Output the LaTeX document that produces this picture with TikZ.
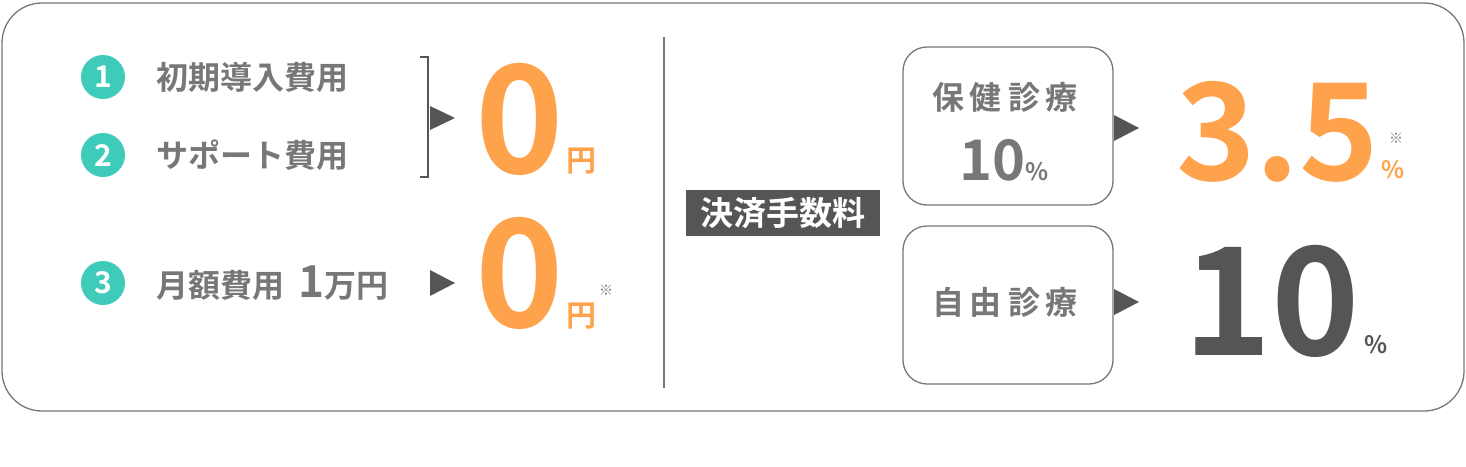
\documentclass[tikz,border=0pt]{standalone}
\usepackage{fontspec}
\setmainfont{Noto Sans CJK JP}[BoldFont={* Bold}]
\newfontfamily\cjk{Noto Sans CJK JP Bold}
\definecolor{org}{HTML}{FFA24C}
\definecolor{tl}{HTML}{3ECBBA}
\definecolor{gt}{HTML}{777777}
\definecolor{dk}{HTML}{555555}
\tikzset{x=1pt,y=-1pt,
 num/.style={circle,fill=tl,text=white,minimum size=44pt,inner sep=0pt,font=\cjk\fontsize{30}{30}\selectfont},
 lbl/.style={anchor=west,text=gt,inner sep=0pt,font=\cjk\fontsize{32}{32}\selectfont},
 tri/.style={fill=dk},
 rbox/.style={draw=gt,line width=1.3pt,rounded corners=24pt,minimum width=210pt,minimum height=158pt,inner sep=0pt},
 big/.style={inner sep=0pt,font=\cjk\fontsize{150}{150}\selectfont},
 sm/.style={inner sep=0pt,font=\cjk\fontsize{30}{30}\selectfont},
 pct/.style={inner sep=0pt,font=\cjk\fontsize{24}{24}\selectfont},
 kome/.style={inner sep=0pt,text=gt,font=\cjk\fontsize{14}{14}\selectfont}}
\begin{document}
\begin{tikzpicture}
\useasboundingbox (0,0) rectangle (1466,466);
\draw[gt,line width=1.3pt,rounded corners=40pt] (2,3) rectangle (1464,411);
\draw[gt,line width=1.3pt] (664,37) -- (664,388);
\node[num] (n1) at (103,77) {1};
\node[num] (n2) at (103,155) {2};
\node[num] (n3) at (103,283) {3};
\node[lbl] (t1) at (156,77) {初期導入費用};
\node[lbl] (t2) at (156,155) {サポート費用};
\node[lbl] (t3) at (156,283) {月額費用\hspace{14pt}{\fontsize{44}{44}\selectfont 1}万円};
\draw[dk,line width=1.3pt] (420,57) -- (428,57) -- (428,177) -- (420,177);
\fill[tri] (430,106) -- (455,118) -- (430,130) -- cycle;
\fill[tri] (430,270) -- (455,283) -- (430,296) -- cycle;
\node[big,text=org,anchor=south] (z1) at (520,176) {0};
\node[sm,text=org,anchor=south west] (y1) at (566,174) {円};
\node[big,text=org,anchor=south] (z2) at (520,330) {0};
\node[sm,text=org,anchor=south west] (y2) at (566,329) {円};
\node[kome] (k1) at (606,290) {※};
\node[fill=dk,text=white,minimum width=194pt,minimum height=46pt,inner sep=0pt,font=\cjk\fontsize{33}{33}\selectfont] (fee) at (783,213) {決済手数料};
\node[rbox] (b1) at (1008,126) {};
\node[rbox] (b2) at (1008,305) {};
\node[lbl,anchor=center] (h1) at (1005,97) {保\hspace{6pt}健\hspace{6pt}診\hspace{6pt}療};
\node[inner sep=0pt,text=gt,font=\cjk\fontsize{56}{56}\selectfont,anchor=south] (p1) at (1004,181) {10{\fontsize{24}{24}\selectfont\%}};
\node[lbl,anchor=center] (h2) at (1005,302) {自\hspace{6pt}由\hspace{6pt}診\hspace{6pt}療};
\fill[tri] (1114,115) -- (1139,128) -- (1114,141) -- cycle;
\fill[tri] (1114,289) -- (1139,302) -- (1114,315) -- cycle;
\node[inner sep=0pt,text=org,font=\cjk\fontsize{135}{135}\selectfont,anchor=south west] (r1) at (1176,183) {3.5};
\node[pct,text=org,anchor=south west] (r1p) at ([xshift=2pt,yshift=4pt]r1.south east) {\%};
\node[kome] (k2) at (1396,138) {※};
\node[big,text=dk,anchor=south west] (r2) at (1183,358) {10};
\node[pct,text=dk,anchor=south west] (r2p) at ([xshift=4pt,yshift=4pt]r2.south east) {\%};
\end{tikzpicture}
\end{document}
